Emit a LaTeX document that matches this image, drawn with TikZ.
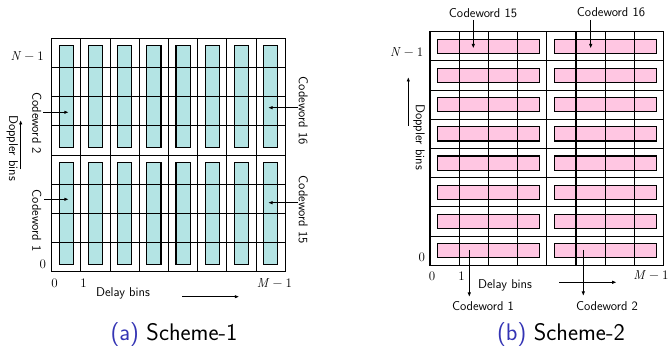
\documentclass[tikz,border=0pt]{standalone}
\usepackage{fontspec}
\usetikzlibrary{arrows.meta}
\definecolor{tealfill}{RGB}{180,228,228}
\definecolor{pinkfill}{RGB}{255,198,226}
\definecolor{capblue}{RGB}{52,52,180}
\newcommand{\mlab}[2]{{\itshape #1}\hspace{0.24em}\textup{\char"2212}\hspace{0.24em}#2}
\tikzset{
  gridline/.style={line width=1.1pt, line cap=rect},
  cellbox/.style={draw=black, line width=1.1pt},
  lbl/.style={font=\sffamily\fontsize{12.8}{15}\selectfont, inner sep=0pt},
  mathlbl/.style={font=\rmfamily\fontsize{13}{15}\selectfont, inner sep=0pt},
  ptr/.style={-{Latex[length=4.5pt,width=3.5pt]}, line width=0.9pt},
  captxt/.style={font=\sffamily\fontsize{24}{28}\selectfont, inner sep=0pt, anchor=base},
}
\begin{document}
\begin{tikzpicture}[x=1pt,y=-1pt]
\useasboundingbox (0,0) rectangle (670,347);

% ---------------- Scheme-1 ----------------
\foreach \i in {0,...,7} {
  \foreach \g in {0,1} {
    \pgfmathsetmacro\xa{51.7+\i*29.2+7.5}
    \pgfmathsetmacro\xb{51.7+(\i+1)*29.2-7.5}
    \pgfmathsetmacro\ya{38.3+4*\g*29.2+7.5}
    \pgfmathsetmacro\yb{38.3+4*(\g+1)*29.2-7.5}
    \draw[cellbox, fill=tealfill] (\xa,\ya) rectangle (\xb,\yb);
  }
}
\foreach \k in {0,...,8} {
  \draw[gridline] (51.7+\k*29.2, 38.3) -- (51.7+\k*29.2, 271.9);
  \draw[gridline] (51.7, 38.3+\k*29.2) -- (285.3, 38.3+\k*29.2);
}

\node[mathlbl] (a-n1) at (27.2,55.8) {\mlab{N}{1}};
\node[mathlbl] (a-0l) at (42.7,264.5) {0};
\node[mathlbl] (a-0b) at (54.5,283) {0};
\node[mathlbl] (a-1b) at (83.5,283) {1};
\node[mathlbl] (a-m1) at (274.5,282.7) {\mlab{M}{1}};
\node[lbl] (a-delay) at (123,293) {Delay bins};
\node[lbl, rotate=-90] (a-dop) at (12.3,148) {Doppler bins};
\node[lbl, rotate=-90] (a-cw2) at (36.7,123) {Codeword 2};
\node[lbl, rotate=-90] (a-cw1) at (36.7,220.5) {Codeword 1};
\node[lbl, rotate=-90] (a-cw16) at (303.3,111) {Codeword 16};
\node[lbl, rotate=-90] (a-cw15) at (303.3,210) {Codeword 15};

\coordinate (a-dx1) at (182,296.7);
\coordinate (a-dx2) at (239.3,296.7);
\coordinate (a-dy1) at (20.7,169.3);
\coordinate (a-dy2) at (20.7,120);
\coordinate (a-c2s) at (43.3,112.3);
\coordinate (a-c2e) at (68.8,112.3);
\coordinate (a-c1s) at (44.3,199.3);
\coordinate (a-c1e) at (68.8,199.3);
\coordinate (a-c16s) at (298.3,107.7);
\coordinate (a-c16e) at (268,107.7);
\coordinate (a-c15s) at (298.3,202.7);
\coordinate (a-c15e) at (268,202.7);
\draw[ptr] (a-dx1) -- (a-dx2);
\draw[ptr] (a-dy1) -- (a-dy2);
\draw[ptr] (a-c2s) -- (a-c2e);
\draw[ptr] (a-c1s) -- (a-c1e);
\draw[ptr] (a-c16s) -- (a-c16e);
\draw[ptr] (a-c15s) -- (a-c15e);

% ---------------- Scheme-2 ----------------
\foreach \j in {0,...,7} {
  \foreach \g in {0,1} {
    \pgfmathsetmacro\xa{430+4*\g*29.2+7.5}
    \pgfmathsetmacro\xb{430+4*(\g+1)*29.2-7.5}
    \pgfmathsetmacro\ya{31.7+\j*29.2+7.5}
    \pgfmathsetmacro\yb{31.7+(\j+1)*29.2-7.5}
    \draw[cellbox, fill=pinkfill] (\xa,\ya) rectangle (\xb,\yb);
  }
}
\foreach \k in {0,...,8} {
  \draw[gridline] (430+\k*29.2, 31.7) -- (430+\k*29.2, 265.3);
  \draw[gridline] (430, 31.7+\k*29.2) -- (663.6, 31.7+\k*29.2);
}

\node[mathlbl] (b-n1) at (406.7,52.3) {\mlab{N}{1}};
\node[mathlbl] (b-0l) at (421.7,257.3) {0};
\node[mathlbl] (b-0b) at (432,276.5) {0};
\node[mathlbl] (b-1b) at (461.5,276.5) {1};
\node[mathlbl] (b-m1) at (651,275) {\mlab{M}{1}};
\node[lbl] (b-delay) at (505,285) {Delay bins};
\node[lbl, rotate=-90] (b-dop) at (419,137) {Doppler bins};
\node[lbl] (b-cw15) at (483,12.7) {Codeword 15};
\node[lbl] (b-cw16) at (611,12.2) {Codeword 16};
\node[lbl] (b-cw1) at (483,306.5) {Codeword 1};
\node[lbl] (b-cw2) at (607,306.5) {Codeword 2};

\coordinate (b-dx1) at (559.3,282.3);
\coordinate (b-dx2) at (616.7,282.3);
\coordinate (b-dy1) at (408.3,126);
\coordinate (b-dy2) at (408.3,77);
\coordinate (b-c15s) at (473.3,20);
\coordinate (b-c15e) at (473.3,48.5);
\coordinate (b-c16s) at (590.7,20);
\coordinate (b-c16e) at (590.7,48.5);
\coordinate (b-c1s) at (469.3,250);
\coordinate (b-c1e) at (469.3,297);
\coordinate (b-c2s) at (583.3,250);
\coordinate (b-c2e) at (583.3,296);
\draw[ptr] (b-dx1) -- (b-dx2);
\draw[ptr] (b-dy1) -- (b-dy2);
\draw[ptr] (b-c15s) -- (b-c15e);
\draw[ptr] (b-c16s) -- (b-c16e);
\draw[ptr] (b-c1s) -- (b-c1e);
\draw[ptr] (b-c2s) -- (b-c2e);

% ---------------- Captions ----------------
\node[captxt] (capa) at (174,341) {\textcolor{capblue}{(a)} Scheme-1};
\node[captxt] (capb) at (561,341) {\textcolor{capblue}{(b)} Scheme-2};
\end{tikzpicture}
\end{document}
